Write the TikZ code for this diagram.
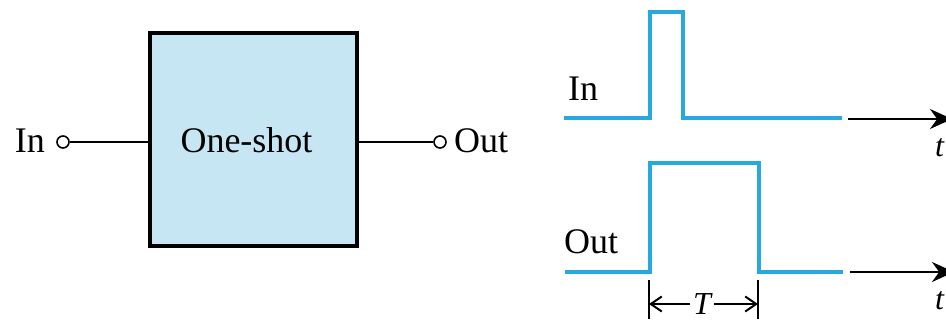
\documentclass[tikz,border=0pt]{standalone}
\usepackage{fontspec}
\setmainfont{Liberation Serif}
\usetikzlibrary{arrows.meta}
\definecolor{wave}{RGB}{38,168,224}
\definecolor{boxfill}{RGB}{198,230,244}
\begin{document}
\begin{tikzpicture}[x=1pt,y=-1pt,
 lbl/.style={font=\fontsize{36}{40}\selectfont, inner sep=0pt},
 tlbl/.style={font=\fontsize{32}{36}\selectfont\itshape, inner sep=0pt},
 wavel/.style={draw=wave, line width=3.5pt, line join=miter},
 term/.style={circle, draw, line width=1.6pt, minimum size=12pt, inner sep=0pt, fill=white},
 wire/.style={line width=1.6pt},
 axis/.style={line width=2pt, -{Stealth[length=22pt,width=20pt]}},
 dim/.style={line width=1.8pt},
 dimarrow/.style={dim, -{Straight Barb[length=11pt,width=15pt,line width=2pt]}}]
\useasboundingbox (0,0) rectangle (946,321);
% block
\node[draw, line width=4pt, fill=boxfill, minimum width=207pt, minimum height=213pt, inner sep=0pt] (box) at (253.5,139.5) {};
\node[lbl, anchor=base] (title) at (246.5,153) {One-shot};
\node[term] (inc) at (63,142) {};
\node[term] (outc) at (440,142) {};
\draw[wire] (inc) -- (inc -| box.west);
\draw[wire] (box.east |- outc) -- (outc);
\node[lbl, anchor=base east] (inlbl) at (45,152) {In};
\node[lbl, anchor=base west] (outlbl) at (454,152) {Out};
% waveforms
\node[lbl, anchor=base west] (winlbl) at (568,100) {In};
\node[lbl, anchor=base west] (woutlbl) at (564,253) {Out};
\draw[wavel] (564,118) -- (650,118) -- (650,12) -- (683,12) -- (683,118) -- (842,118);
\draw[wavel] (565,272) -- (650,272) -- (650,163) -- (759,163) -- (759,272) -- (843,272);
\coordinate (a1s) at (848,119);
\coordinate (a1e) at (952,119);
\coordinate (a2s) at (850,272);
\coordinate (a2e) at (954,272);
\draw[axis] (a1s) -- (a1e);
\draw[axis] (a2s) -- (a2e);
\node[tlbl, anchor=north west] (t1) at (935,138) {t};
\node[tlbl, anchor=north west] (t2) at (935,291) {t};
% pulse width
\coordinate (k1a) at (649,280);
\coordinate (k1b) at (649,319);
\coordinate (k2a) at (758,280);
\coordinate (k2b) at (758,319);
\draw[dim] (k1a) -- (k1b);
\draw[dim] (k2a) -- (k2b);
\node[tlbl, inner sep=3pt] (T) at (702,304) {T};
\draw[dimarrow] (T.west) -- (T.west -| k1a);
\draw[dimarrow] (T.east) -- (T.east -| k2a);
\end{tikzpicture}
\end{document}
